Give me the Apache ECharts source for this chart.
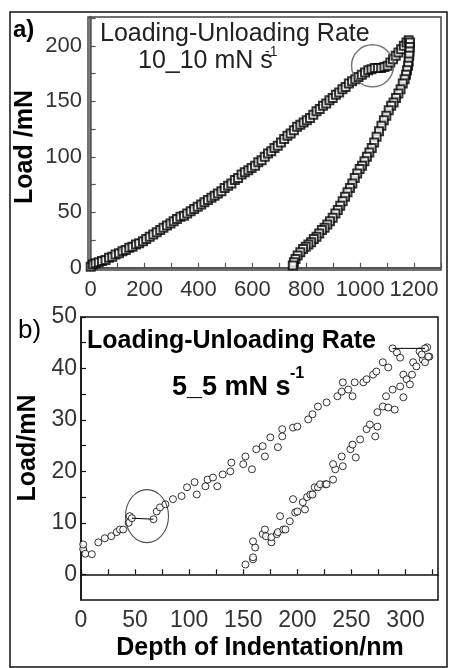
<!DOCTYPE html>
<html>
<head>
<meta charset="utf-8">
<script src="https://cdn.jsdelivr.net/npm/echarts@6/dist/echarts.min.js"></script>
<style>
  html, body { margin: 0; padding: 0; background: #fff; }
  #chart { width: 450px; height: 668px; }
</style>
</head>
<body>
<div id="chart"></div>
<script>
// Panel a: 10_10 mN/s loading-unloading cycle, [depth nm, load mN]
const loadingA = [
  [0,1],[8,3],[18,4],[30,5],[42,6],[55,7],[68,9],[80,10],[92,12],[105,13],[118,15],[130,16],
  [143,18],[155,19],[168,21],[180,22],[194,24],[206,26],[219,28],[232,30],[245,32],[258,34],
  [270,36],[283,38],[296,40],[308,42],[320,44],[333,46],[346,47],[358,49],[371,51],[384,53],
  [397,55],[410,57],[422,59],[435,61],[448,63],[460,65],[472,67],[485,69],[497,72],[510,74],
  [522,76],[535,79],[547,81],[560,84],[572,86],[585,88],[597,90],[610,92],[622,95],[634,97],
  [646,100],[658,103],[670,105],[682,108],[694,110],[706,113],[718,116],[730,119],[742,121],
  [754,124],[766,127],[778,129],[790,131],[802,133],[814,135],[826,138],[838,141],[850,143],
  [862,146],[874,148],[886,151],[898,153],[910,156],[922,158],[934,161],[946,163],[958,166],
  [970,168],[982,170],[994,172],[1006,174],[1018,176],[1030,178],[1042,179],[1054,180],
  [1066,180],[1078,180],[1090,181],[1102,182],[1112,185],[1122,188],[1132,191],[1142,194],
  [1152,197],[1162,200],[1172,203],[1180,205]
];
const unloadingA = [
  [1185,203],[1184,199],[1183,195],[1182,191],[1180,186],[1178,182],[1174,178],[1170,174],
  [1165,170],[1158,166],[1150,161],[1142,157],[1133,153],[1124,149],[1115,146],[1106,142],
  [1097,137],[1088,133],[1079,128],[1070,123],[1061,118],[1052,113],[1043,108],[1034,104],
  [1025,100],[1016,96],[1007,92],[998,89],[989,85],[980,81],[971,76],[962,72],[953,68],
  [944,64],[935,60],[926,56],[917,52],[908,49],[898,45],[888,42],[878,39],[868,36],[858,34],
  [848,31],[838,28],[828,26],[818,23],[808,21],[798,19],[788,17],[778,14],[768,11],[760,8],
  [754,5],[750,2]
];
const markA = [[1046, 182]];

// Panel b: 5_5 mN/s loading-unloading cycle, [depth nm, load mN]
const loadingB = [
  [2,4.9],[2,5.8],[4,4],[10,3.9],[16,6.2],[22,7],[28,7.4],[33,8.2],[36,8.7],[39,8.7],[44,10],
  [45,11.3],[47,10.9],[67,10.7],[70,12.2],[73,13],[78,13.6],[85,14.6],[93,15.2],[98,16.9],
  [105,17.9],[107,15.5],[115,17.1],[117,18.4],[122,18.8],[126,17.1],[131,19.4],[138,20],
  [139,21.7],[150,21.4],[152,22.9],[158,20.4],[162,24.3],[168,24.9],[170,22.9],[175,26.6],
  [182,24.7],[186,28.2],[186,26.8],[196,28.5],[200,28.7],[210,30.1],[214,31.1],[219,32.6],
  [227,33.4],[237,34.6],[241,35.5],[242,37.3],[247,35.9],[251,34.6],[253,37.3],[261,37.3],
  [264,37.9],[270,38.8],[273,39.4],[279,41.2],[284,40.2],[288,43.9],[292,43.1],[295,42.1]
];
const unloadingB = [
  [152,1.9],[159,2.9],[159,3.3],[161,5.2],[159,6.4],[168,7.8],[170,8.7],[171,7.4],[176,6.2],
  [176,7.2],[181,7.8],[182,8.2],[184,11.3],[187,8.7],[189,8.7],[193,10.3],[196,14.6],[198,12],
  [200,12.2],[205,14],[207,12.6],[209,15],[212,15.5],[214,15.5],[216,16.9],[219,16.9],
  [221,17.5],[226,17.5],[227,17.5],[233,18.4],[235,20.4],[233,21.4],[242,21],[241,22.9],
  [249,24.3],[251,25.2],[254,22.7],[258,26.2],[264,28.2],[267,29.1],[272,26.8],[274,28.7],
  [274,31.5],[279,32.6],[284,32.4],[290,32],[282,34.6],[288,35.9],[295,36.5],[298,38.8],
  [301,37.9],[304,36.9],[298,34.4],[306,38.8],[307,41.2],[310,40.4],[316,41.7],[313,43.3],
  [322,42.3],[318,41.2],[321,42.3],[315,42.7],[320,44.1],[318,43.9]
];
const joinsB = [[47,10.9],[67,10.7],'-',[288,43.9],[318,43.9]];
const markB = [[61, 11.3]];

// Axis ticks and labels
const ticksAX = [0,100,200,300,400,500,600,700,800,900,1000,1100,1200,1300];
const labelsAX = [0,200,400,600,800,1000,1200];
const ticksAY = [0,25,50,75,100,125,150,175,200,225];
const labelsAY = [0,50,100,150,200];
const ticksBX = [0,25,50,75,100,125,150,175,200,225,250,275,300,325];
const labelsBX = [0,50,100,150,200,250,300];
const ticksBY = [0,5,10,15,20,25,30,35,40,45,50];
const labelsBY = [0,10,20,30,40,50];

const FONT = 'Arial, "Liberation Sans", sans-serif';

function joinPath(pts) {
  const out = [];
  pts.forEach(p => out.push(p === '-' ? [null, null] : p));
  return out;
}

function valueAxis(grid, min, max, ticks, labels, opts) {
  return {
    type: 'value', gridIndex: grid, min: min, max: max,
    axisLine: { show: true, lineStyle: { color: opts.lineColor, width: opts.lineWidth } },
    axisTick: { show: true, inside: true, length: 5, customValues: ticks,
                lineStyle: { color: opts.lineColor, width: 1.2 } },
    axisLabel: { customValues: labels, fontSize: opts.fontSize, color: opts.labelColor,
                 fontFamily: FONT, margin: opts.margin, hideOverlap: false,
                 showMinLabel: true, showMaxLabel: true,
                 formatter: v => String(v) },
    splitLine: { show: false }
  };
}

const chart = echarts.init(document.getElementById('chart'), null, { renderer: 'canvas' });

const squareStyle = { color: '#fff', borderColor: '#000', borderWidth: 2 };
const circleStyle = { color: '#fff', borderColor: '#000', borderWidth: 1 };

chart.setOption({
  animation: false,
  backgroundColor: '#fff',
  grid: [
    { left: 88, top: 17, width: 353, height: 253, show: true, borderColor: '#444', borderWidth: 1.5, backgroundColor: 'transparent' },
    { left: 81, top: 317, width: 357, height: 283, show: true, borderColor: '#111', borderWidth: 1.5, backgroundColor: 'transparent' }
  ],
  xAxis: [
    valueAxis(0, -10, 1300, ticksAX, labelsAX, { lineColor: '#555', lineWidth: 2, fontSize: 22, labelColor: '#333', margin: 9 }),
    valueAxis(1, 0, 330, ticksBX, labelsBX, { lineColor: '#111', lineWidth: 1.5, fontSize: 23, labelColor: '#333', margin: 9 })
  ],
  yAxis: [
    valueAxis(0, -2, 226, ticksAY, labelsAY, { lineColor: '#555', lineWidth: 2.5, fontSize: 22, labelColor: '#333', margin: 6 }),
    valueAxis(1, -5, 50, ticksBY, labelsBY, { lineColor: '#111', lineWidth: 1.5, fontSize: 23, labelColor: '#333', margin: 4 })
  ],
  series: [
    { type: 'scatter', xAxisIndex: 0, yAxisIndex: 0, data: loadingA, symbol: 'rect', symbolSize: 8, itemStyle: squareStyle, silent: true },
    { type: 'scatter', xAxisIndex: 0, yAxisIndex: 0, data: unloadingA, symbol: 'rect', symbolSize: 8, itemStyle: squareStyle, silent: true },
    { type: 'scatter', xAxisIndex: 0, yAxisIndex: 0, data: markA, symbol: 'circle', symbolSize: 42, z: 5,
      itemStyle: { color: 'rgba(0,0,0,0)', borderColor: '#555', borderWidth: 1.5 }, silent: true },
    { type: 'line', xAxisIndex: 1, yAxisIndex: 1, data: joinPath(joinsB), showSymbol: false, connectNulls: false,
      lineStyle: { color: '#000', width: 1 }, silent: true },
    { type: 'scatter', xAxisIndex: 1, yAxisIndex: 1, data: loadingB, symbol: 'circle', symbolSize: 7, itemStyle: circleStyle, silent: true },
    { type: 'scatter', xAxisIndex: 1, yAxisIndex: 1, data: unloadingB, symbol: 'circle', symbolSize: 7, itemStyle: circleStyle, silent: true },
    { type: 'scatter', xAxisIndex: 1, yAxisIndex: 1, data: markB, symbol: 'circle', symbolSize: [43, 53], z: 5,
      itemStyle: { color: 'rgba(0,0,0,0)', borderColor: '#222', borderWidth: 1.2 }, silent: true }
  ],
  graphic: [
    { type: 'rect', shape: { x: 10, y: 12, width: 437, height: 655 }, silent: true,
      style: { fill: 'none', stroke: '#111', lineWidth: 1.5 } },
    { type: 'text', x: 13, y: 30, silent: true,
      style: { text: 'a)', font: 'bold 24px ' + FONT, fill: '#000', align: 'left', verticalAlign: 'middle' } },
    { type: 'text', x: 18, y: 331, silent: true,
      style: { text: 'b)', font: '26px ' + FONT, fill: '#000', align: 'left', verticalAlign: 'middle' } },
    { type: 'text', x: 100, y: 34, silent: true,
      style: { text: 'Loading-Unloading Rate', font: '25px ' + FONT, fill: '#222', align: 'left', verticalAlign: 'middle' } },
    { type: 'text', x: 138, y: 61, silent: true,
      style: { text: '10_10 mN s', font: '25px ' + FONT, fill: '#222', align: 'left', verticalAlign: 'middle' } },
    { type: 'text', x: 265, y: 52, silent: true,
      style: { text: '-1', font: '14px ' + FONT, fill: '#222', align: 'left', verticalAlign: 'middle' } },
    { type: 'text', x: 87, y: 341, silent: true,
      style: { text: 'Loading-Unloading Rate', font: 'bold 25px ' + FONT, fill: '#000', align: 'left', verticalAlign: 'middle' } },
    { type: 'text', x: 172, y: 388, silent: true,
      style: { text: '5_5 mN s', font: 'bold 27px ' + FONT, fill: '#000', align: 'left', verticalAlign: 'middle' } },
    { type: 'text', x: 290, y: 374, silent: true,
      style: { text: '-1', font: 'bold 16px ' + FONT, fill: '#000', align: 'left', verticalAlign: 'middle' } },
    { type: 'text', x: 25, y: 147, rotation: Math.PI / 2, silent: true,
      style: { text: 'Load /mN', font: 'bold 25px ' + FONT, fill: '#000', align: 'center', verticalAlign: 'middle' } },
    { type: 'text', x: 28, y: 448, rotation: Math.PI / 2, silent: true,
      style: { text: 'Load/mN', font: 'bold 25px ' + FONT, fill: '#000', align: 'center', verticalAlign: 'middle' } },
    { type: 'text', x: 260, y: 648, silent: true,
      style: { text: 'Depth of Indentation/nm', font: 'bold 25px ' + FONT, fill: '#000', align: 'center', verticalAlign: 'middle' } }
  ]
});
</script>
</body>
</html>
